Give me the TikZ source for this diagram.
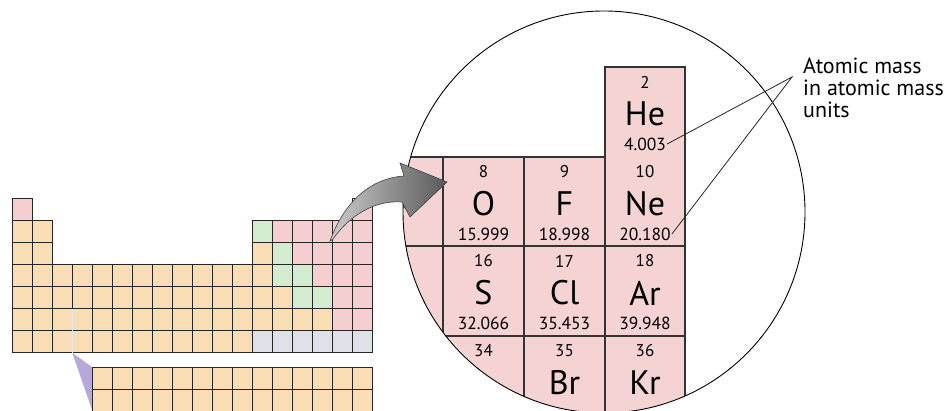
\documentclass[tikz,border=0pt]{standalone}
\usepackage{fontspec}
\setmainfont{PT Sans}
\usetikzlibrary{arrows.meta}
\definecolor{CellTan}{HTML}{F8DDB5}
\definecolor{CellPink}{HTML}{F5CFCF}
\definecolor{CellGreen}{HTML}{D3EBCF}
\definecolor{CellSlate}{HTML}{DFE1E8}
\definecolor{ZoomPink}{HTML}{F5D3D3}
\definecolor{Lavender}{HTML}{B7A8DC}

\begin{document}
\begin{tikzpicture}[x=1pt,y=-1pt,
  cell/.style={draw=black!85,line width=1.1pt},
  grid/.style={draw=black!80,line width=1.2pt},
  znum/.style={font=\fontsize{17}{17}\selectfont,inner sep=1pt},
  zsym/.style={font=\fontsize{34}{34}\selectfont,inner sep=1pt},
  zmass/.style={font=\fontsize{17.5}{17.5}\selectfont,inner sep=1pt},
  note/.style={font=\fontsize{22}{21.7}\selectfont,align=left,inner sep=0pt},
  callout/.style={draw=black!85,line width=0.8pt}
]
\useasboundingbox (0,0) rectangle (949,411);
\fill[white] (0,0) rectangle (949,411);

\foreach \r/\from/\to/\clr in {1/1/1/CellPink, 1/18/18/CellPink,
    2/1/2/CellTan, 2/13/13/CellGreen, 2/14/18/CellPink,
    3/1/2/CellTan, 3/13/13/CellTan, 3/14/14/CellGreen, 3/15/18/CellPink,
    4/1/13/CellTan, 4/14/15/CellGreen, 4/16/18/CellPink,
    5/1/14/CellTan, 5/15/16/CellGreen, 5/17/18/CellPink,
    6/1/16/CellTan, 6/17/18/CellPink,
    7/1/12/CellTan, 7/13/18/CellSlate}
  \foreach \c in {\from,...,\to}
    \draw[cell,fill=\clr] (\c*20.02-7.72,\r*22.1+176.1) rectangle ++(20.02,22.1);
\draw[Lavender!35!white,line width=1pt] (72.3,308.7) -- (72.3,352.8);

\fill[Lavender] (72.3,352.8) -- (92.4,367.3) -- (92.4,411) -- cycle;
\foreach \r in {0,1}
  \foreach \c in {5,...,18}
    \draw[cell,fill=CellTan] (\c*20.02-7.72,367.3+\r*22.1) rectangle ++(20.02,22.1);

\begin{scope}
  \clip (604,212) circle (201);
  \fill[ZoomPink] (380,157) -- (605,157) -- (605,67) -- (685,67) -- (685,430) -- (380,430) -- cycle;
  \draw[grid] (380,157) -- (605,157) -- (605,67) -- (685,67) -- (685,430);
  \draw[grid] (380,246) -- (685,246) (380,336) -- (685,336)
    (443,157) -- (443,430) (524,157) -- (524,430) (605,157) -- (605,430);
  \foreach \id/\cx/\ty/\z in {he/645/67/2, o/483.5/157/8, f/564.5/157/9, ne/645/157/10,
      s/483.5/246/16, cl/564.5/246/17, ar/645/246/18,
      se/483.5/336/34, br/564.5/336/35, kr/645/336/36}
    \node[znum] (\id-num) at (\cx,\ty+15) {\z};
  \foreach \id/\cx/\ty/\sym in {n/403/157/N, he/645/67/He, o/483.5/157/O, f/564.5/157/F,
      ne/645/157/Ne, s/483.5/246/S, cl/564.5/246/Cl, ar/645/246/Ar,
      br/564.5/336/Br, kr/645/336/Kr}
    \node[zsym] (\id-sym) at (\cx,\ty+47) {\sym};
  \foreach \id/\cx/\ty/\m in {he/645/67/4.003, o/483.5/157/15.999, f/564.5/157/18.998,
      ne/645/157/20.180, s/483.5/246/32.066, cl/564.5/246/35.453, ar/645/246/39.948}
    \node[zmass] (\id-mass) at (\cx,\ty+77) {\m};
\end{scope}
\draw[line width=0.9pt] (604,212) circle (201);

\coordinate (label-tip) at (792,77);
\node[note,anchor=north west] (mass-label) at (803,58) {Atomic mass\\in atomic mass\\units};
\draw[callout] (he-mass.east) -- (label-tip) -- (ne-mass.east);

\shade[left color=black!20,right color=black!65,draw=black!75,line width=0.6pt]
  (330,241) .. controls (345,200) and (372,178) .. (404,176) -- (400,163) -- (447,182)
  -- (410,217) -- (402,202) .. controls (375,200) and (350,215) .. (333,239) -- cycle;
\end{tikzpicture}
\end{document}
